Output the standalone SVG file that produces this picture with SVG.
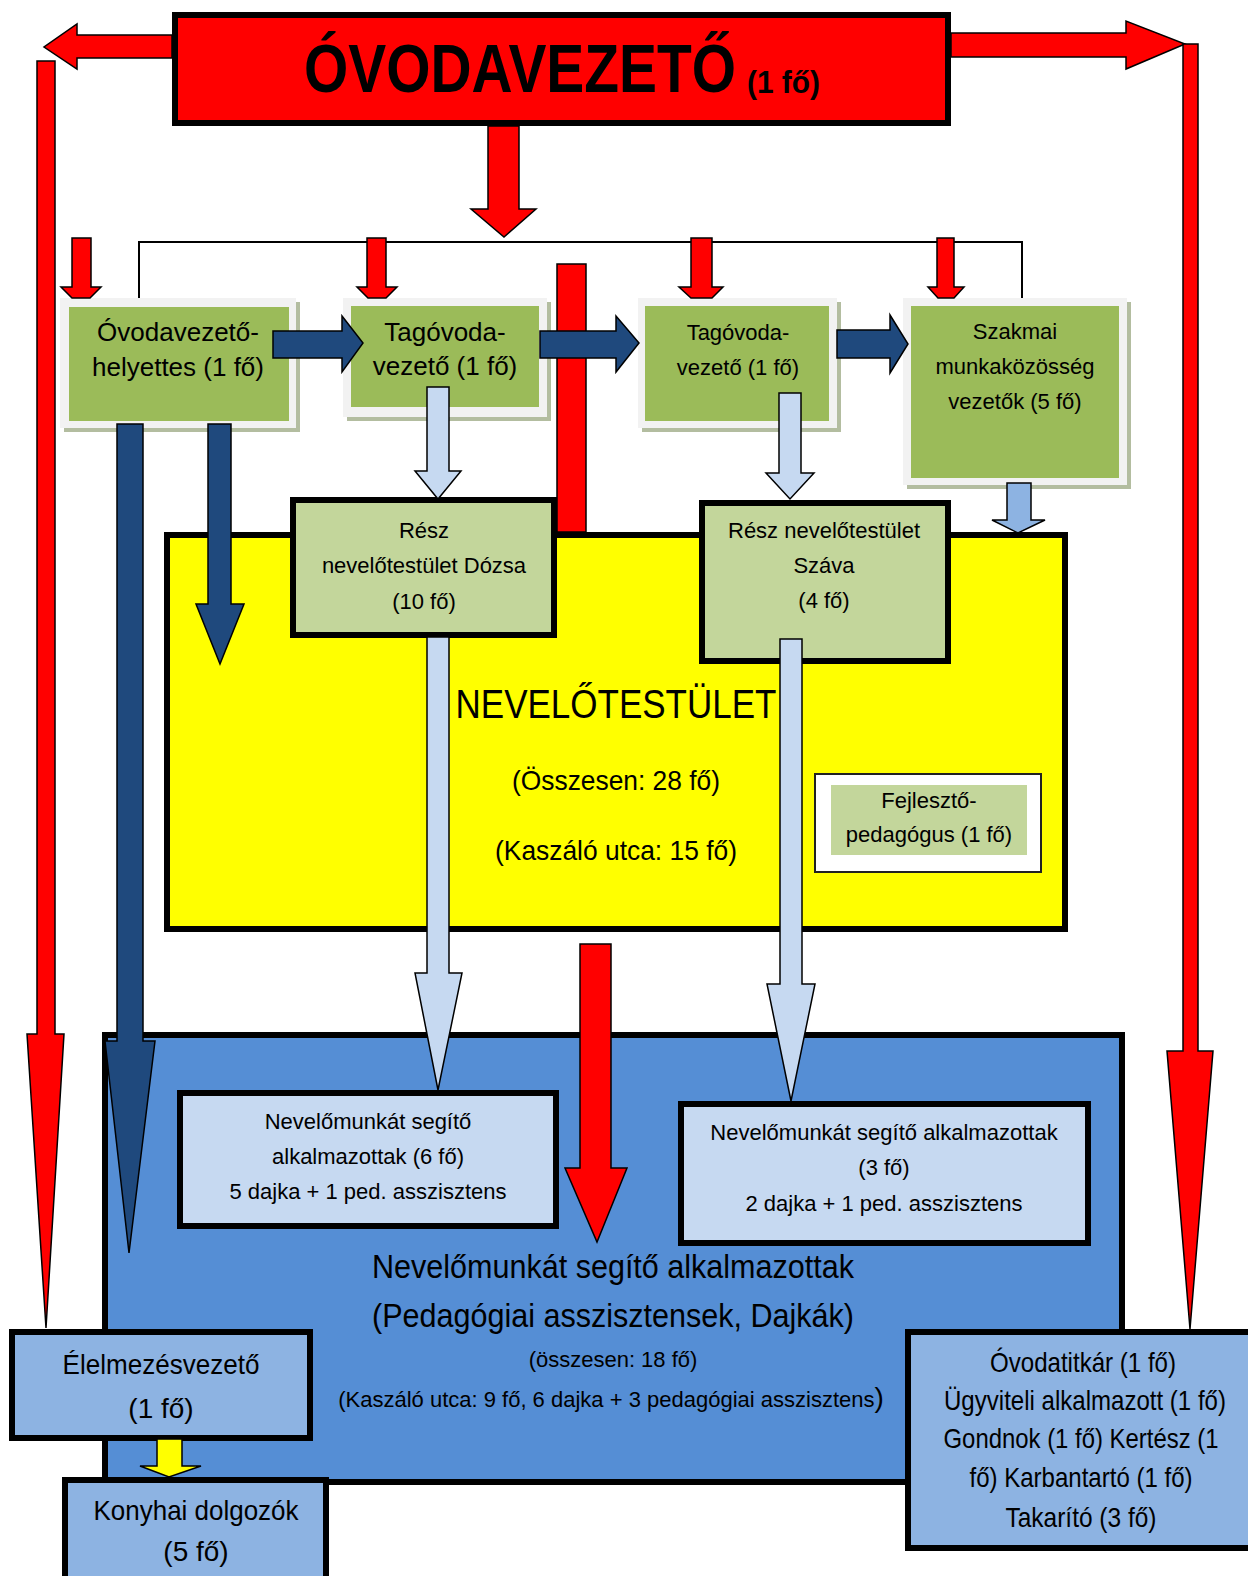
<svg xmlns="http://www.w3.org/2000/svg" width="1248" height="1576" viewBox="0 0 1248 1576">
<style>
text{font-family:"Liberation Sans",Arial,sans-serif;fill:#000;text-anchor:middle}
.s22{font-size:22px}.s26{font-size:26px}.s28{font-size:28px}.s34{font-size:34px}
.thick{stroke:#000;stroke-width:6}
.frame{fill:#F2F2F2}.shadow{fill:#B3BDA0}.green{fill:#9BBB59}
.red{fill:#FF0000;stroke:#000;stroke-width:1.5}
.dblue{fill:#1F497D;stroke:#000;stroke-width:1.5}
.lblue{fill:#C6D9F1;stroke:#000;stroke-width:1.5}
.mblue{fill:#8DB3E2;stroke:#000;stroke-width:1.5}
.yel{fill:#FFFF00;stroke:#000;stroke-width:1.5}
</style>
<rect width="1248" height="1576" fill="#fff"/>
<g id="nodes">
<g id="ovodavezeto">
<rect x="175" y="15" width="773" height="108" fill="#FF0000" class="thick"/>
<text x="304" y="92" style="font-size:68px;font-weight:bold;text-anchor:start" textLength="432" lengthAdjust="spacingAndGlyphs">ÓVODAVEZETŐ</text>
<text x="747" y="93" style="font-size:32px;font-weight:bold;text-anchor:start" textLength="73" lengthAdjust="spacingAndGlyphs">(1 fő)</text>
</g>
<g id="helyettes">
<rect x="64" y="302" width="236" height="130" class="shadow"/>
<rect x="60" y="298" width="236" height="130" class="frame"/>
<rect x="69" y="307" width="220" height="114" class="green"/>
<text x="178" y="341" class="s26">Óvodavezető-</text>
<text x="178" y="376" class="s26">helyettes (1 fő)</text>
</g>
<g id="tagovoda1">
<rect x="347" y="302" width="204" height="119" class="shadow"/>
<rect x="343" y="298" width="204" height="119" class="frame"/>
<rect x="351" y="306" width="188" height="101" class="green"/>
<text x="445" y="341" class="s26">Tagóvoda-</text>
<text x="445" y="375" class="s26">vezető (1 fő)</text>
</g>
<g id="tagovoda2">
<rect x="642" y="302" width="199" height="130" class="shadow"/>
<rect x="638" y="298" width="199" height="130" class="frame"/>
<rect x="645" y="306" width="184" height="115" class="green"/>
<text x="738" y="340" class="s22">Tagóvoda-</text>
<text x="738" y="375" class="s22">vezető (1 fő)</text>
</g>
<g id="szakmai">
<rect x="907" y="302" width="224" height="187" class="shadow"/>
<rect x="903" y="298" width="224" height="187" class="frame"/>
<rect x="911" y="306" width="208" height="172" class="green"/>
<text x="1015" y="339" class="s22">Szakmai</text>
<text x="1015" y="374" class="s22">munkaközösség</text>
<text x="1015" y="409" class="s22">vezetők (5 fő)</text>
</g>
<g id="nevelotestulet">
<rect x="167" y="535" width="898" height="394" fill="#FFFF00" class="thick"/>
<text x="616" y="718" style="font-size:40px" textLength="321" lengthAdjust="spacingAndGlyphs">NEVELŐTESTÜLET</text>
<text x="616" y="790" class="s28" textLength="208" lengthAdjust="spacingAndGlyphs">(Összesen: 28 fő)</text>
<text x="616" y="860" class="s28" textLength="242" lengthAdjust="spacingAndGlyphs">(Kaszáló utca: 15 fő)</text>
</g>
<g id="dozsa">
<rect x="293" y="500" width="261" height="135" fill="#C3D69B" class="thick"/>
<text x="424" y="538" class="s22">Rész</text>
<text x="424" y="573" class="s22">nevelőtestület Dózsa</text>
<text x="424" y="609" class="s22">(10 fő)</text>
</g>
<g id="szava">
<rect x="702" y="503" width="246" height="158" fill="#C3D69B" class="thick"/>
<text x="824" y="538" class="s22">Rész nevelőtestület</text>
<text x="824" y="573" class="s22">Száva</text>
<text x="824" y="608" class="s22">(4 fő)</text>
</g>
<g id="fejleszto">
<rect x="815" y="774" width="226" height="98" fill="#fff" stroke="#222" stroke-width="2"/>
<rect x="831" y="785" width="196" height="70" fill="#C3D69B"/>
<text x="929" y="808" class="s22">Fejlesztő-</text>
<text x="929" y="842" class="s22">pedagógus (1 fő)</text>
</g>
<g id="segito">
<rect x="105" y="1035" width="1017" height="447" fill="#558ED5" class="thick"/>
<text x="613" y="1278" class="s34" textLength="482" lengthAdjust="spacingAndGlyphs">Nevelőmunkát segítő alkalmazottak</text>
<text x="613" y="1327" class="s34" textLength="482" lengthAdjust="spacingAndGlyphs">(Pedagógiai asszisztensek, Dajkák)</text>
<text x="613" y="1367" class="s22">(összesen: 18 fő)</text>
<text x="611" y="1407" class="s22">(Kaszáló utca: 9 fő, 6 dajka + 3 pedagógiai asszisztens<tspan style="font-size:28px">)</tspan></text>
</g>
<g id="segito6">
<rect x="180" y="1093" width="376" height="133" fill="#C6D9F1" class="thick"/>
<text x="368" y="1129" class="s22">Nevelőmunkát segítő</text>
<text x="368" y="1164" class="s22">alkalmazottak (6 fő)</text>
<text x="368" y="1199" class="s22">5 dajka + 1 ped. asszisztens</text>
</g>
<g id="segito3">
<rect x="681" y="1104" width="407" height="139" fill="#C6D9F1" class="thick"/>
<text x="884" y="1140" class="s22">Nevelőmunkát segítő alkalmazottak</text>
<text x="884" y="1175" class="s22">(3 fő)</text>
<text x="884" y="1211" class="s22">2 dajka + 1 ped. asszisztens</text>
</g>
<g id="elelmezes">
<rect x="12" y="1332" width="298" height="106" fill="#8DB3E2" class="thick"/>
<text x="161" y="1374" class="s28" textLength="197" lengthAdjust="spacingAndGlyphs">Élelmezésvezető</text>
<text x="161" y="1418" class="s28">(1 fő)</text>
</g>
<g id="konyhai">
<rect x="65" y="1480" width="261" height="120" fill="#8DB3E2" class="thick"/>
<text x="196" y="1520" class="s28" textLength="205" lengthAdjust="spacingAndGlyphs">Konyhai dolgozók</text>
<text x="196" y="1561" class="s28">(5 fő)</text>
</g>
<g id="titkar">
<rect x="908" y="1332" width="346" height="216" fill="#8DB3E2" class="thick"/>
<text x="1083" y="1372" class="s28" textLength="186" lengthAdjust="spacingAndGlyphs">Óvodatitkár (1 fő)</text>
<text x="1085" y="1410" class="s28" textLength="282" lengthAdjust="spacingAndGlyphs">Ügyviteli alkalmazott (1 fő)</text>
<text x="1081" y="1448" class="s28" textLength="275" lengthAdjust="spacingAndGlyphs">Gondnok (1 fő) Kertész (1</text>
<text x="1081" y="1487" class="s28" textLength="223" lengthAdjust="spacingAndGlyphs">fő) Karbantartó (1 fő)</text>
<text x="1081" y="1527" class="s28" textLength="151" lengthAdjust="spacingAndGlyphs">Takarító (3 fő)</text>
</g>
</g>
<g id="connectors">
<polygon class="red" points="172,35 77,35 77,24 44,47 77,69 77,58 172,58"/>
<polygon class="red" points="951,33 1126,33 1126,21 1185,44 1126,69 1126,57 951,57"/>
<polygon class="red" points="37,61 55,61 55,1034 64,1034 46,1328 27,1034 37,1034"/>
<polygon class="red" points="1183,44 1198,44 1198,1051 1213,1051 1190,1329 1167,1051 1183,1051"/>
<polygon class="red" points="488,126 519,126 519,209 536,209 504,237 471,209 488,209"/>
<polyline points="139,298 139,242 1022,242 1022,298" fill="none" stroke="#000" stroke-width="2"/>
<polygon class="red" points="72,238 91,238 91,287 101,287 90,298 72,298 61,287 72,287"/>
<polygon class="red" points="367,238 386,238 386,287 397,287 386,298 368,298 357,287 367,287"/>
<polygon class="red" points="691,238 712,238 712,287 723,287 712,298 691,298 679,287 691,287"/>
<polygon class="red" points="937,238 954,238 954,287 964,287 954,298 938,298 928,287 937,287"/>
<rect class="red" x="557" y="264" width="29" height="268"/>
<polygon class="dblue" points="273,331 342,331 342,316 363,343 342,372 342,358 273,358"/>
<polygon class="dblue" points="540,331 616,331 616,316 639,343 616,372 616,358 540,358"/>
<polygon class="dblue" points="837,330 890,330 890,315 908,344 890,373 890,358 837,358"/>
<polygon class="lblue" points="427,387 449,387 449,471 461,471 438,499 415,471 427,471"/>
<polygon class="lblue" points="779,393 801,393 801,473 814,473 790,499 766,473 779,473"/>
<polygon class="mblue" points="1007,483 1031,483 1031,520 1045,520 1018,533 992,520 1007,520"/>
<polygon class="dblue" points="208,424 231,424 231,604 244,604 220,664 196,604 208,604"/>
<polygon class="dblue" points="117,424 143,424 143,1041 155,1041 129,1253 105,1041 117,1041"/>
<polygon class="lblue" points="427,637 449,637 449,973 462,973 438,1090 415,973 427,973"/>
<polygon class="lblue" points="780,639 802,639 802,984 815,984 791,1101 767,984 780,984"/>
<polygon class="red" points="580,944 611,944 611,1168 627,1168 597,1242 565,1168 580,1168"/>
<polygon class="yel" points="157,1439 182,1439 182,1466 201,1466 169,1477 140,1466 157,1466"/>
</g>
</svg>
